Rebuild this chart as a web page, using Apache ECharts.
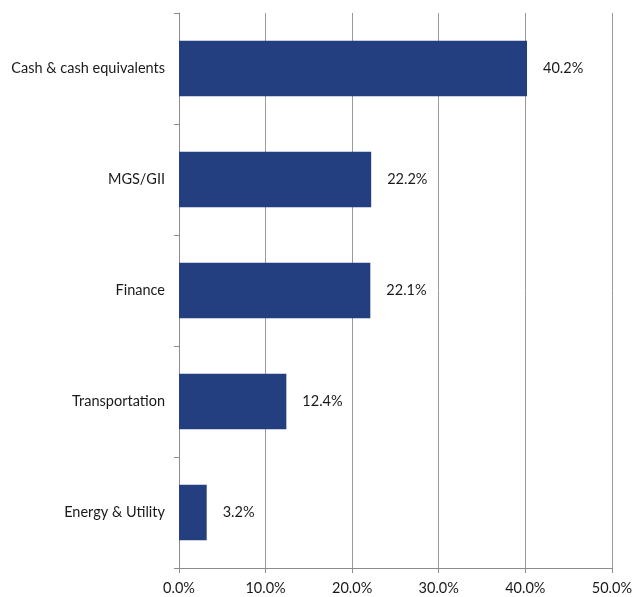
<!DOCTYPE html>
<html><head><meta charset="utf-8">
<script src="https://cdn.jsdelivr.net/npm/echarts@6/dist/echarts.min.js"></script>
<style>html,body{margin:0;padding:0;background:#fff}#c{width:635px;height:597px}</style>
</head><body><div id="c"></div>
<script>
const categories = ["Energy & Utility", "Transportation", "Finance", "MGS/GII", "Cash & cash equivalents"];
const values = [3.2, 12.4, 22.1, 22.2, 40.2];
const tickLabels = ["0.0%", "10.0%", "20.0%", "30.0%", "40.0%", "50.0%"];
const chart = echarts.init(document.getElementById('c'));
const font = 'Lato, "Open Sans", sans-serif';
chart.setOption({
  animation: false,
  grid: {left: 179, right: 19, top: 13, bottom: 29, containLabel: false},
  xAxis: {
    type: 'value', min: 0, max: 50, interval: 10,
    axisLine: {show: true, lineStyle: {color: '#8c8c8c', width: 1}},
    axisTick: {show: true, length: 5, lineStyle: {color: '#8c8c8c'}},
    splitLine: {show: true, lineStyle: {color: '#9a9a9a', width: 1}},
    axisLabel: {color: '#1a1a1a', fontSize: 14.5, fontFamily: font, margin: 13,
      formatter: v => tickLabels[Math.round(v / 10)]}
  },
  yAxis: {
    type: 'category', data: categories,
    axisLine: {show: true, lineStyle: {color: '#8c8c8c', width: 1}},
    axisTick: {show: true, length: 5, lineStyle: {color: '#8c8c8c'}},
    axisLabel: {color: '#1a1a1a', fontSize: 14.5, fontFamily: font, margin: 14}
  },
  series: [{
    type: 'bar', data: values, barWidth: '50%',
    itemStyle: {color: '#243F7F'},
    label: {show: true, position: 'right', distance: 16, color: '#1a1a1a', fontSize: 14.5, fontFamily: font,
      formatter: p => p.value.toFixed(1) + '%'}
  }]
});
</script></body></html>
